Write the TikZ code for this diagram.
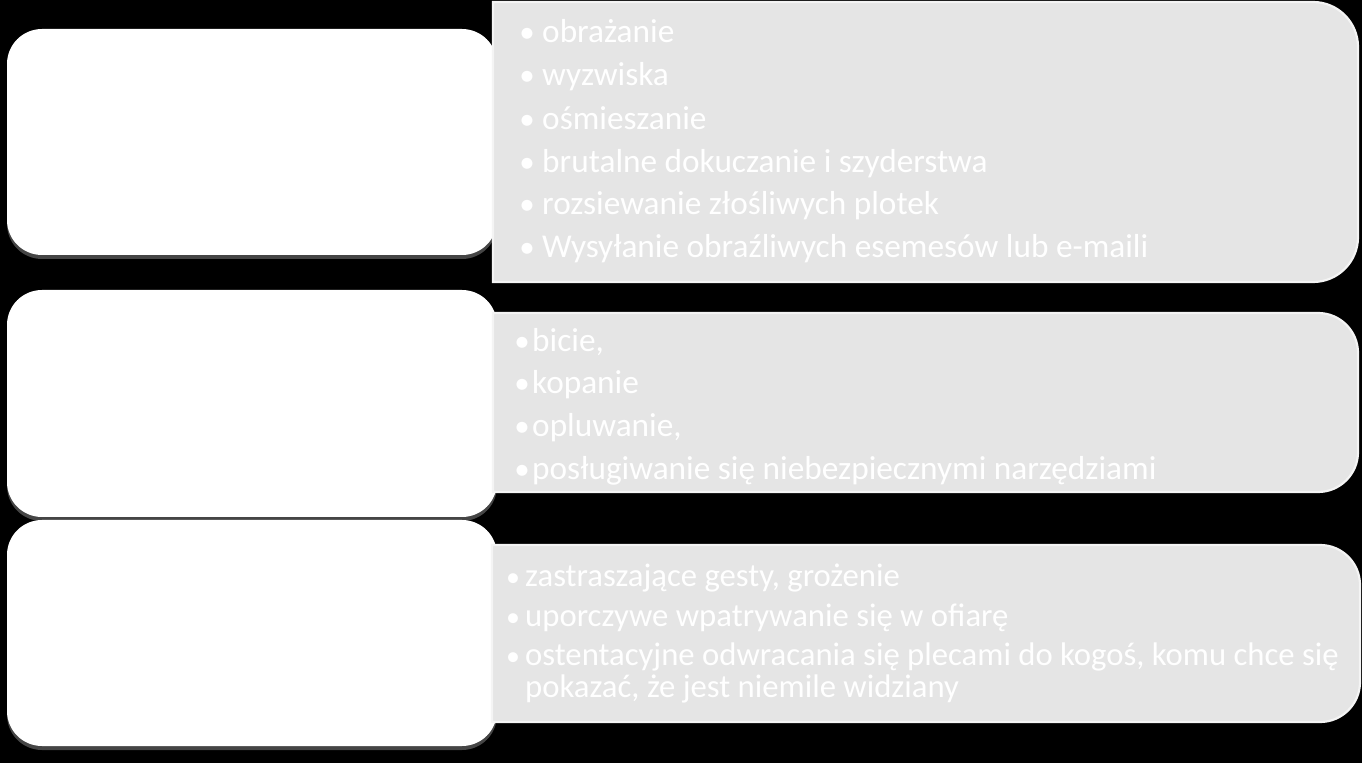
\documentclass[tikz,border=0pt]{standalone}
\usepackage{fontspec}
\setmainfont{Carlito}
\usetikzlibrary{shadows}
\definecolor{panel}{HTML}{E5E5E5}
\definecolor{rim}{HTML}{F4F4F4}
\definecolor{glow}{HTML}{454545}
\tikzset{
  leftbox/.style={fill=white, rounded corners=35pt, inner sep=0pt,
    drop shadow={shadow xshift=0pt, shadow yshift=-4pt, fill=glow, opacity=1}},
  rightbox/.style={fill=panel, draw=rim, line width=2.2pt},
  itemA/.style={anchor=base west, text=white, inner sep=0pt, font=\fontsize{33.3}{43}\selectfont},
  bulA/.style={anchor=base, text=white, inner sep=0pt, font=\fontsize{31}{43}\selectfont},
  itemC/.style={anchor=base west, text=white, inner sep=0pt, font=\fontsize{32.7}{35}\selectfont},
  bulC/.style={anchor=base, text=white, inner sep=0pt, font=\fontsize{28}{35}\selectfont},
}
\begin{document}
\begin{tikzpicture}[x=1pt,y=1pt]
\fill[black] (0,0) rectangle (1362,763);
\useasboundingbox (0,0) rectangle (1362,763);
% left white boxes
\node[leftbox, minimum width=490pt, minimum height=226pt] (l1) at (252,621) {};
\node[leftbox, minimum width=490pt, minimum height=227pt] (l2) at (252,359.5) {};
\node[leftbox, minimum width=490pt, minimum height=226pt] (l3) at (252,130) {};
% right grey panels
\draw[rightbox] (493,761) -- (1313,761) arc[start angle=90,end angle=0,radius=45pt]
  -- (1358,526) arc[start angle=0,end angle=-90,radius=45pt] -- (493,481) -- cycle;
\draw[rightbox] (493,450) -- (1318,450) arc[start angle=90,end angle=0,radius=40pt]
  -- (1358,311) arc[start angle=0,end angle=-90,radius=40pt] -- (493,271) -- cycle;
\draw[rightbox] (492,218) -- (1320,218) arc[start angle=90,end angle=0,radius=40pt]
  -- (1360,81) arc[start angle=0,end angle=-90,radius=40pt] -- (492,41) -- cycle;
% panel 1 text
\node[bulA] (b11) at (527,720) {•};
\node[itemA] (t11) at (542,720) {obrażanie};
\node[bulA] (b12) at (527,677) {•};
\node[itemA] (t12) at (542,677) {wyzwiska};
\node[bulA] (b13) at (527,633) {•};
\node[itemA] (t13) at (542,633) {ośmieszanie};
\node[bulA] (b14) at (527,590) {•};
\node[itemA] (t14) at (542,590) {brutalne dokuczanie i szyderstwa};
\node[bulA] (b15) at (527,548) {•};
\node[itemA] (t15) at (542,548) {rozsiewanie złośliwych plotek};
\node[bulA] (b16) at (527,505) {•};
\node[itemA] (t16) at (542,505) {Wysyłanie obraźliwych esemesów lub e-maili};
% panel 2 text
\node[bulA] (b21) at (522,411) {•};
\node[itemA] (t21) at (532,411) {bicie,};
\node[bulA] (b22) at (522,369) {•};
\node[itemA] (t22) at (532,369) {kopanie};
\node[bulA] (b23) at (522,326) {•};
\node[itemA] (t23) at (532,326) {opluwanie,};
\node[bulA] (b24) at (522,283) {•};
\node[itemA] (t24) at (532,283) {posługiwanie się niebezpiecznymi narzędziami};
% panel 3 text
\node[bulC] (b31) at (513,176) {•};
\node[itemC] (t31) at (525,176) {zastraszające gesty, grożenie};
\node[bulC] (b32) at (513,136) {•};
\node[itemC] (t32) at (525,136) {uporczywe wpatrywanie się w ofiarę};
\node[bulC] (b33) at (513,98) {•};
\node[itemC] (t33) at (525,98) {ostentacyjne odwracania się plecami do kogoś, komu chce się};
\node[itemC] (t34) at (525,66) {pokazać, że jest niemile widziany};
\end{tikzpicture}
\end{document}
